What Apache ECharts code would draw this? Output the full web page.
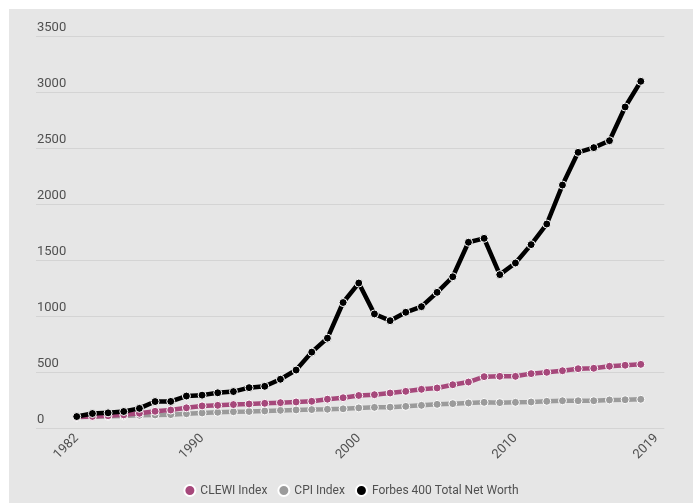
<!DOCTYPE html>
<html>
<head>
<meta charset="utf-8">
<script src="https://cdn.jsdelivr.net/npm/echarts@6/dist/echarts.min.js"></script>
<style>
  html, body { margin: 0; padding: 0; background: #ffffff; width: 693px; height: 504px; overflow: hidden; }
  #chart { position: absolute; left: 9px; top: 9px; width: 684px; height: 494px; }
</style>
</head>
<body>
<div id="chart"></div>
<script>
// Years covered by the series (1982 – 2018)
const years = [1982,1983,1984,1985,1986,1987,1988,1989,1990,1991,1992,1993,1994,1995,1996,1997,1998,1999,
  2000,2001,2002,2003,2004,2005,2006,2007,2008,2009,2010,2011,2012,2013,2014,2015,2016,2017,2018];

// Cost of Living Extremely Well Index
const clewi = [100,106,112,120,134,152,163,183,200,205,212,217,223,229,235,241,260,273,
  293,300,315,330,348,360,389,413,461,464,464,488,500,514,532,536,554,563,571];

// Consumer Price Index (1982 = 100)
const cpi = [100,104,107,110,116,119,122,130,137,143,148,150,155,160,164,167,170,174,
  182,187,189,196,205,214,220,226,232,229,232,235,241,246,246,246,253,255,259];

// Forbes 400 total net worth (billions)
const forbes = [105,132,138,150,178,239,240,288,296,317,328,363,375,438,520,680,805,1123,
  1297,1021,961,1036,1086,1214,1353,1661,1696,1372,1476,1640,1824,2172,2464,2506,2568,2869,3098];

// Axis ticks
const xTickYears = [1982, 1990, 2000, 2010, 2019];
const yTicks = [0, 500, 1000, 1500, 2000, 2500, 3000, 3500];

const seriesNames = ['CLEWI Index', 'CPI Index', 'Forbes 400 Total Net Worth'];
const seriesColors = ['#a6487b', '#9b9b9b', '#000000'];

const pairs = vals => years.map((y, i) => [y, vals[i]]);

const chart = echarts.init(document.getElementById('chart'), null, { renderer: 'canvas' });

function lineSeries(name, color, vals, z) {
  return {
    name: name,
    type: 'line',
    data: pairs(vals),
    z: z,
    symbol: 'circle',
    symbolSize: 8,
    showSymbol: true,
    lineStyle: { color: color, width: 4.5 },
    itemStyle: { color: color, borderColor: '#ffffff', borderWidth: 1 },
    emphasis: { disabled: true },
    animation: false
  };
}

chart.setOption({
  backgroundColor: '#e6e6e6',
  textStyle: { fontFamily: 'Roboto, sans-serif' },
  grid: { left: 27, right: 28.7, top: 27.3, bottom: 74.7, containLabel: false },
  legend: {
    data: seriesNames.map(n => ({ name: n, icon: 'circle' })),
    top: 470,
    left: 'center',
    itemWidth: 11,
    itemHeight: 11,
    itemGap: 10,
    textStyle: { color: '#505050', fontSize: 12, fontFamily: 'Roboto, sans-serif' }
  },
  xAxis: {
    type: 'value',
    min: 1979.4,
    max: 2019.5,
    axisLine: { show: false },
    axisTick: { show: false },
    splitLine: { show: false },
    axisLabel: {
      customValues: xTickYears,
      rotate: 45,
      margin: 8,
      color: '#505050',
      fontSize: 13,
      formatter: v => String(v)
    }
  },
  yAxis: {
    type: 'value',
    min: yTicks[0],
    max: yTicks[yTicks.length - 1],
    interval: 500,
    axisLine: { show: false },
    axisTick: { show: false },
    splitLine: { lineStyle: { color: '#d4d4d4', width: 1 } },
    axisLabel: {
      inside: true,
      margin: 1,
      verticalAlign: 'bottom',
      padding: [0, 0, 2, 0],
      color: '#505050',
      fontSize: 13,
      formatter: v => String(v)
    }
  },
  series: [
    lineSeries(seriesNames[0], seriesColors[0], clewi, 3),
    lineSeries(seriesNames[1], seriesColors[1], cpi, 2),
    lineSeries(seriesNames[2], seriesColors[2], forbes, 4)
  ]
});
</script>
</body>
</html>
